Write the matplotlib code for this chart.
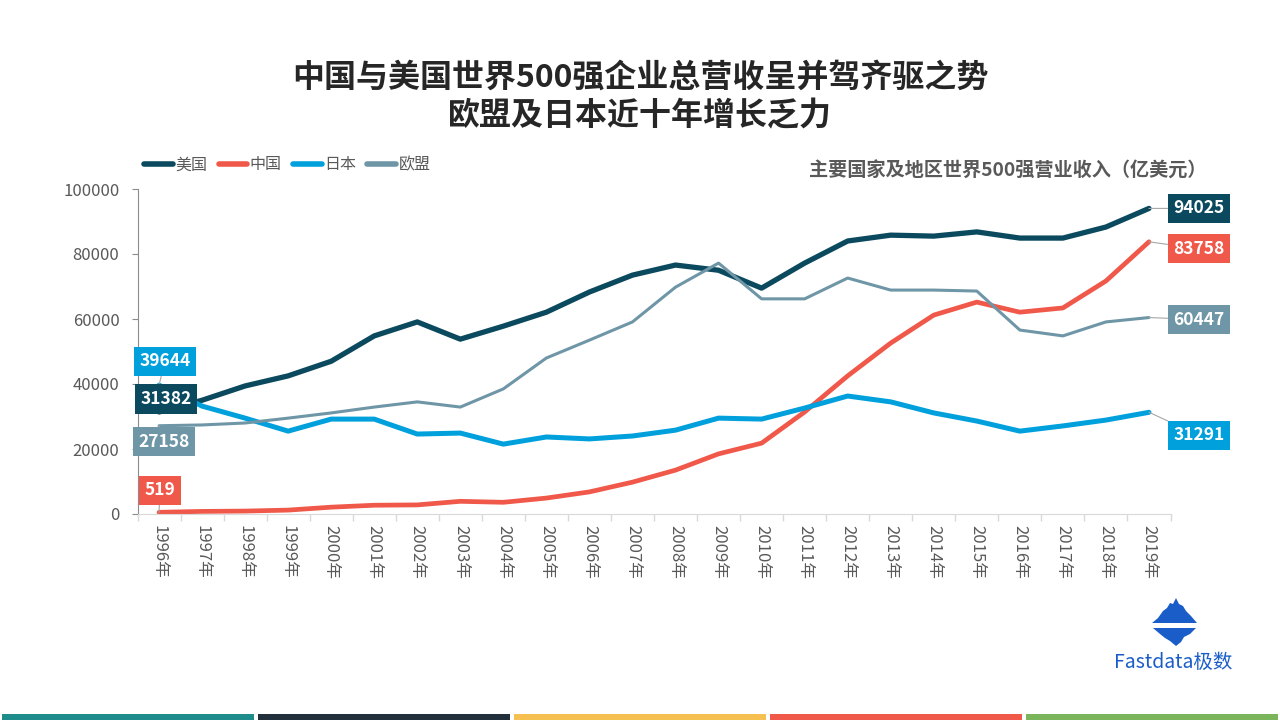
import matplotlib
matplotlib.use('Agg')
import matplotlib.pyplot as plt
from matplotlib.patches import Polygon, Rectangle
from matplotlib.lines import Line2D
import numpy as np

plt.rcParams['font.family'] = ['Noto Sans CJK SC', 'DejaVu Sans']

# 数据（亿美元）
years = [str(y) + '年' for y in range(1996, 2020)]
usa = [31382, 35000, 39400, 42500, 47000, 54800, 59100, 53800, 57800, 62100, 68300, 73500,
       76600, 75000, 69500, 77200, 84000, 85800, 85500, 86800, 84900, 84900, 88300, 94025]
china = [519, 800, 900, 1200, 2100, 2700, 2800, 3900, 3600, 4900, 6800, 9800,
         13500, 18500, 21800, 31400, 42500, 52600, 61200, 65200, 62100, 63400, 71700, 83758]
japan = [39644, 33200, 29500, 25500, 29200, 29200, 24600, 24900, 21500, 23700, 23100, 24000,
         25800, 29500, 29200, 32600, 36300, 34500, 31100, 28600, 25500, 27100, 28900, 31291]
eu = [27158, 27400, 28000, 29500, 31100, 32900, 34500, 32900, 38500, 48000, 53500, 59100,
      69800, 77200, 66200, 66200, 72600, 68900, 68900, 68600, 56600, 54800, 59100, 60447]
names = ['美国', '中国', '日本', '欧盟']
colors = ['#0B4A5E', '#F0584A', '#00A0DC', '#6E96A6']
widths = [3.8, 3.4, 3.6, 2.2]

W, H = 1280, 720
fig = plt.figure(figsize=(12.8, 7.2), dpi=100)
fig.patch.set_facecolor('white')


def fx(x):
    return x / W


def fy(y):
    return 1 - y / H


ax = fig.add_axes([fx(137.5), fy(514), fx(1170.5) - fx(137.5), fy(189) - fy(514)])
x = np.arange(len(years))
series = [usa, china, japan, eu]
for s, c, lw in zip(series, colors, widths):
    ax.plot(x, s, color=c, lw=lw, solid_capstyle='round', solid_joinstyle='round', clip_on=False)

ax.set_xlim(-0.5, len(years) - 0.5)
ax.set_ylim(0, 100000)
ax.set_yticks(range(0, 100001, 20000))
ax.set_xticks(x)
ax.set_xticklabels(years, rotation=-90, fontsize=12, color='#595959')
ax.set_xticks(np.arange(-0.5, len(years), 1), minor=True)
ax.tick_params(axis='x', which='major', length=0, pad=8)
ax.tick_params(axis='x', which='minor', length=5, color='#D9D9D9', width=1)
ax.tick_params(axis='y', length=4, color='#8C8C8C', labelsize=12, labelcolor='#595959', pad=9)
for sp in ['top', 'right']:
    ax.spines[sp].set_visible(False)
ax.spines['left'].set_color('#8C8C8C')
ax.spines['bottom'].set_color('#D9D9D9')

# 标签
def tag(i, val, c, dx, dy):
    ax.annotate(str(val), xy=(i, val), xytext=(dx, dy), textcoords='offset pixels',
                ha='center', va='center', fontsize=12.5, fontweight='bold', color='white',
                bbox=dict(boxstyle='square,pad=0.32', fc=c, ec='none'),
                arrowprops=dict(arrowstyle='-', color='#A6A6A6', lw=0.8, shrinkA=0, shrinkB=0),
                annotation_clip=False, zorder=5)

tag(0, japan[0], colors[2], 6, 24)
tag(0, usa[0], colors[0], 7, 13)
tag(0, eu[0], colors[3], 5, -16)
tag(0, china[0], colors[1], 1, 22)
tag(23, usa[-1], colors[0], 50, 0)
tag(23, china[-1], colors[1], 50, -7)
tag(23, eu[-1], colors[3], 50, -2)
tag(23, japan[-1], colors[2], 50, -23)

# 图例
handles = [Line2D([0], [0], color=c, lw=4, solid_capstyle='round') for c in colors]
fig.legend(handles, names, loc='center left', bbox_to_anchor=(fx(130), fy(165)), ncol=4,
           frameon=False, handlelength=1.8, handletextpad=0.15, columnspacing=0.7,
           prop={'size': 11.5}, labelcolor='#595959')

# 标题
fig.text(0.5, fy(78), '中国与美国世界500强企业总营收呈并驾齐驱之势', ha='center', va='center',
         fontsize=23, fontweight='bold', color='#262626')
fig.text(0.5, fy(116), '欧盟及日本近十年增长乏力', ha='center', va='center',
         fontsize=23, fontweight='bold', color='#262626')
fig.text(fx(1206), fy(171), '主要国家及地区世界500强营业收入（亿美元）', ha='right', va='center',
         fontsize=13.8, fontweight='bold', color='#595959')

# 标志
top = [(1152, 623), (1158, 618), (1163, 611), (1167, 608), (1170, 603), (1173, 604),
       (1176, 598), (1179, 604), (1183, 606), (1186, 611), (1191, 616), (1197, 623)]
bottom = [(1153, 628), (1196, 628), (1190, 634), (1184, 637), (1181, 642), (1176, 646),
          (1170, 641), (1165, 638), (1160, 634)]
for pts in [top, bottom]:
    fig.add_artist(Polygon([(fx(a), fy(b)) for a, b in pts], closed=True,
                           transform=fig.transFigure, fc='#1A5DC8', ec='none'))
fig.text(fx(1173), fy(662), 'Fastdata极数', ha='center', va='center', fontsize=14, color='#1A5DC8')

# 底部色条
bar_colors = ['#1E8C8A', '#22303C', '#F5C04F', '#F0584A', '#7AB55C']
seg = W / len(bar_colors)
for k, c in enumerate(bar_colors):
    fig.add_artist(Rectangle((fx(k * seg + 2), 0), fx(seg - 4), 6 / H,
                             transform=fig.transFigure, fc=c, ec='none'))

fig.savefig('out.png', dpi=100)
